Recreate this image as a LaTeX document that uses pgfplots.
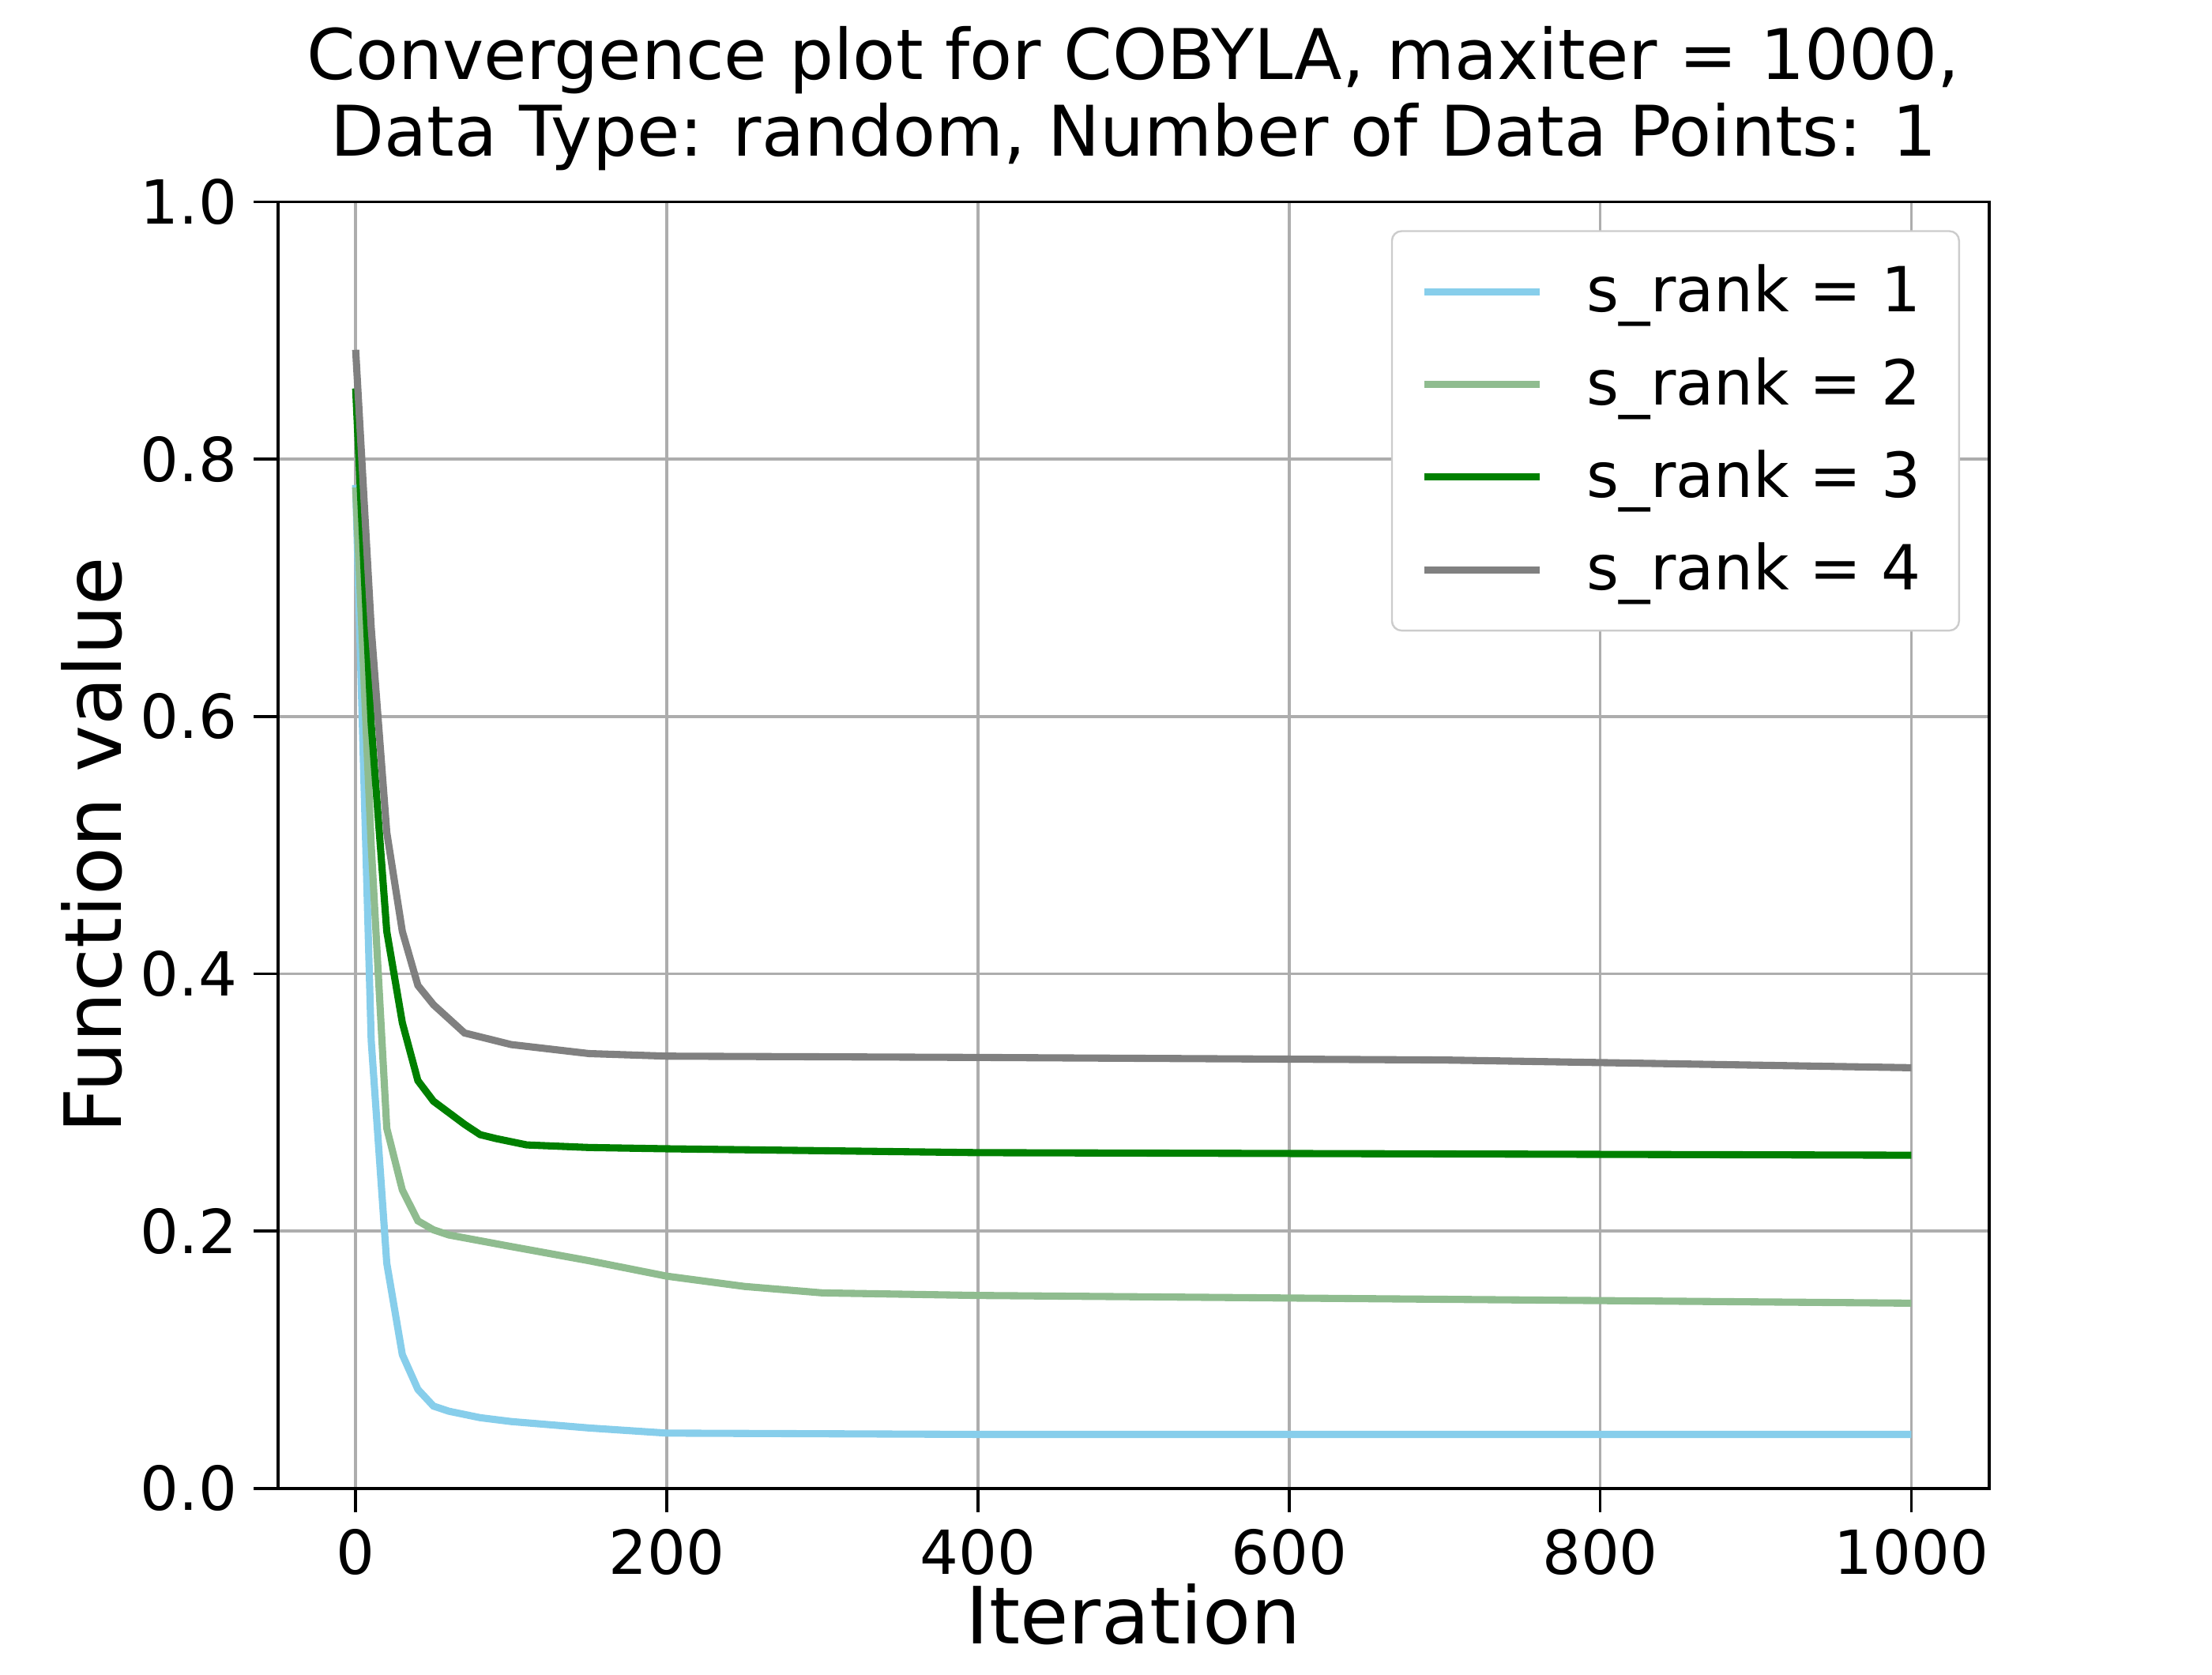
\documentclass[border=0pt]{standalone}
\usepackage{pgfplots}
\pgfplotsset{compat=1.18}
\usepackage{fontspec}
\setmainfont{DejaVu Sans}
\definecolor{c1}{RGB}{135,206,235}
\definecolor{c2}{RGB}{143,188,143}
\definecolor{c3}{RGB}{0,128,0}
\definecolor{c4}{RGB}{128,128,128}
\begin{document}
\begin{tikzpicture}
\useasboundingbox (-0.804in,-0.539in) rectangle ++(6.4in,4.845in);
\begin{axis}[at={(0,0)},anchor=south west,scale only axis,
width=4.951in,height=3.722in,
xmin=-50,xmax=1050,ymin=0,ymax=1,
xtick={0,200,400,600,800,1000},ytick={0,0.2,0.4,0.6,0.8,1.0},
xtick pos=bottom, ytick pos=left,
xticklabel style={/pgf/number format/1000 sep={}},
yticklabel style={/pgf/number format/.cd,fixed,fixed zerofill,precision=1},
/pgf/number format/assume math mode=true,
scaled ticks=false,
grid=major, grid style={color=black!32,line width=0.6pt},
tick style={black,line width=0.6pt}, tick align=outside, major tick length=5pt,
axis line style={line width=0.6pt},
ticklabel style={font=\fontsize{12.7}{14}\selectfont},
xlabel={Iteration}, ylabel={Function value},
label style={font=\fontsize{16.5}{19}\selectfont},
xlabel style={yshift=5pt},
ylabel style={yshift=-3pt},
title={Convergence plot for COBYLA, maxiter = 1000,\\ Data Type: random, Number of Data Points: 1},
title style={font=\fontsize{14.6}{16}\selectfont,align=center,yshift=-3pt},
legend pos=north east,
legend style={font=\fontsize{13}{16}\selectfont,draw=black!20,rounded corners=2pt,row sep=4pt,inner xsep=6pt,inner ysep=5pt,legend cell align=left,at={(0.983,0.978)},anchor=north east},
legend image code/.code={\draw[#1,line width=1.5pt] (0cm,0cm) -- (0.85cm,0cm);},
every axis plot/.append style={line width=1.5pt}
]
\addplot[c1] coordinates {(0,0.78)(10,0.348)(20,0.175)(30,0.104)(40,0.077)(50,0.064)(60,0.060)(80,0.055)(100,0.052)(150,0.047)(200,0.043)(400,0.042)(1000,0.042)};
\addlegendentry{\hspace{0.25cm}s\_rank = 1}
\addplot[c2] coordinates {(0,0.778)(10,0.50)(20,0.28)(30,0.232)(40,0.208)(50,0.201)(60,0.197)(100,0.188)(150,0.177)(200,0.165)(250,0.157)(300,0.152)(400,0.150)(600,0.148)(800,0.146)(1000,0.144)};
\addlegendentry{\hspace{0.25cm}s\_rank = 2}
\addplot[c3] coordinates {(0,0.855)(10,0.594)(20,0.433)(30,0.362)(40,0.317)(50,0.301)(70,0.283)(80,0.275)(90,0.272)(110,0.267)(150,0.265)(200,0.264)(400,0.261)(1000,0.259)};
\addlegendentry{\hspace{0.25cm}s\_rank = 3}
\addplot[c4] coordinates {(0,0.885)(10,0.669)(20,0.51)(30,0.433)(40,0.391)(50,0.376)(70,0.354)(100,0.345)(150,0.338)(200,0.336)(400,0.335)(700,0.333)(800,0.331)(1000,0.327)};
\addlegendentry{\hspace{0.25cm}s\_rank = 4}
\end{axis}
\end{tikzpicture}
\end{document}
